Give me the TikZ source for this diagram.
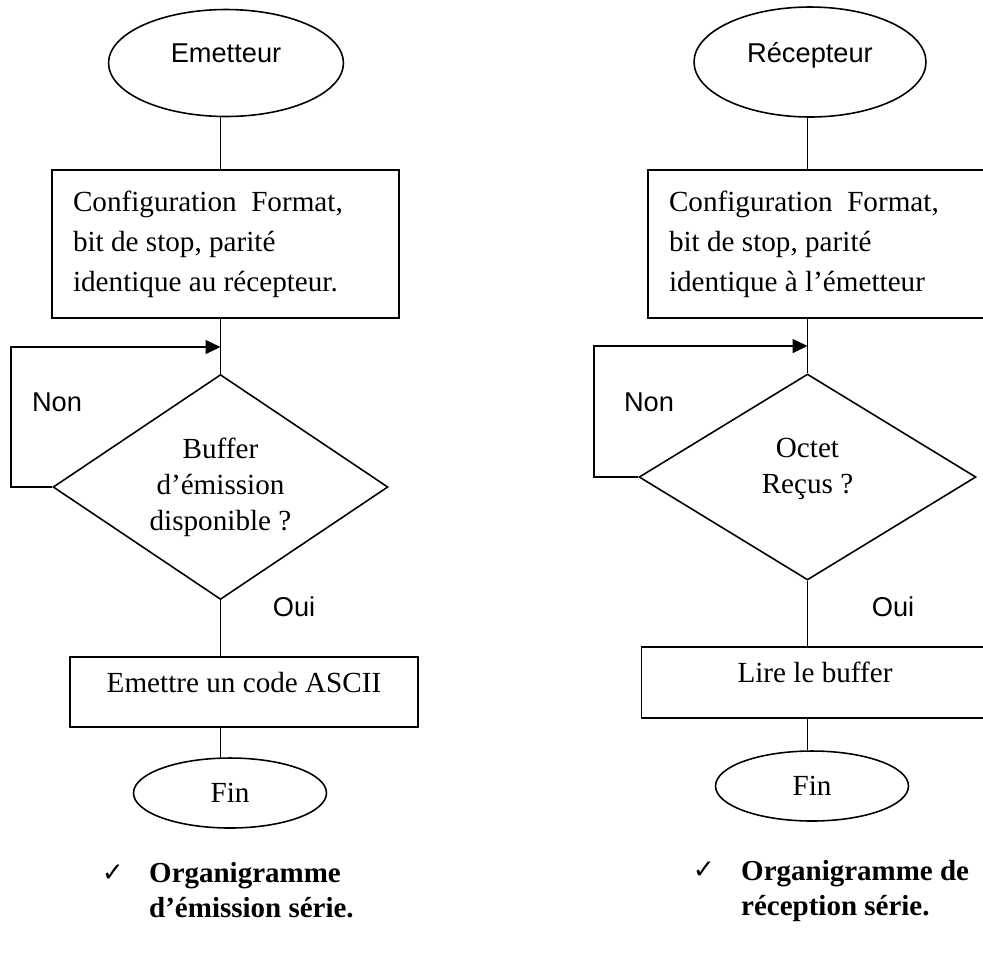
\documentclass[tikz,border=0pt]{standalone}
\usepackage{fontspec}
\setmainfont{Liberation Serif}
\setsansfont{Liberation Sans}
\newfontfamily\symbfont{DejaVu Sans}
\usetikzlibrary{shapes.geometric,arrows.meta}

\tikzset{
  flow/.style={line width=0.9pt},
  term/.style={draw, line width=0.9pt, ellipse, inner sep=0pt, font=\fontsize{15.5}{18}\sffamily},
  fin/.style={draw, line width=0.9pt, ellipse, inner sep=0pt, minimum width=3.86cm, minimum height=1.4cm, font=\fontsize{16.6}{20}\selectfont},
  stepbox/.style={draw, line width=0.9pt, rectangle, minimum width=6.95cm, font=\fontsize{16.6}{22.7}\selectfont},
  config/.style={stepbox, minimum height=2.96cm, inner xsep=0.42cm, text width=6.1cm, align=flush left},
  choice/.style={draw, line width=0.9pt, diamond, shape aspect=1.5, inner sep=0pt, align=center, font=\fontsize{16.6}{20.4}\selectfont},
  answer/.style={font=\fontsize{15.5}{18}\sffamily},
  caption/.style={anchor=west, align=left, font=\fontsize{16.5}{19.8}\bfseries},
  tick/.style={font=\fontsize{15}{18}\symbfont},
}

\begin{document}
\begin{tikzpicture}[x=0.02cm, y=-0.02cm]

\useasboundingbox (0,0) rectangle (983,965);
\clip (0,0) rectangle (983,965);

% Emission
\node[term, minimum width=4.7cm, minimum height=2.14cm] (emit) at (226,63) {\raisebox{0.04cm}{\smash{Emetteur}}};
\node[config] (conf1) at (225.5,244) {Configuration\ \ Format,\\ bit de stop, parité\\ identique au récepteur.};
\node[choice, minimum width=6.7cm, minimum height=4.5cm] (buf) at (220.5,487) {Buffer\\ d’émission\\ disponible ?};
\node[stepbox, minimum height=1.4cm] (ascii) at (244,692) {\smash{Emettre un code ASCII}};
\node[fin] (fin1) at (230,793) {Fin};
\coordinate (jL) at (220.5,347);

\draw[flow] (emit.south -| buf.north) -- (conf1.north -| buf.north);
\draw[flow] (conf1.south -| buf.north) -- (buf.north);
\draw[flow, -{Triangle[length=0.3cm,width=0.28cm]}] (buf.west) -- ++(-41,0) |- (jL);
\draw[flow] (buf.south) -- (ascii.north -| buf.south);
\draw[flow] (ascii.south -| buf.south) -- (fin1.north -| buf.south);

\node[answer] (nonL) at (57,402) {Non};
\node[answer] (ouiL) at (294,607) {Oui};

\node[tick] (tickL) at (113,873) {✓};
\node[caption] (capL) at (143,890) {Organigramme\\ d’émission série.};

% Reception
\node[term, minimum width=4.64cm, minimum height=2.2cm] (recv) at (810,62) {\smash{Récepteur}};
\node[config] (conf2) at (821.5,244) {Configuration\ \ Format,\\ bit de stop, parité\\ identique à l’émetteur};
\node[choice, minimum width=6.74cm, minimum height=4.12cm] (octet) at (807.5,477)
  {\raisebox{0.02cm}[0pt][0pt]{\begin{tabular}{@{}c@{}}Octet\\ Reçus ?\end{tabular}}};
\node[stepbox, minimum height=1.42cm] (lire) at (815,682.5) {\smash{Lire le buffer}};
\node[fin] (fin2) at (812,786) {Fin};
\coordinate (jR) at (807.5,346);

\draw[flow] (recv.south -| octet.north) -- (conf2.north -| octet.north);
\draw[flow] (conf2.south -| octet.north) -- (octet.north);
\draw[flow, -{Triangle[length=0.3cm,width=0.28cm]}] (octet.west) -- ++(-44,0) |- (jR);
\draw[flow] (octet.south) -- (lire.north -| octet.south);
\draw[flow] (lire.south -| octet.south) -- (fin2.north -| octet.south);

\node[answer] (nonR) at (649,402) {Non};
\node[answer] (ouiR) at (893,607) {Oui};

\node[tick] (tickR) at (704,870) {✓};
\node[caption] (capR) at (735,891) {Organigramme de\\ réception série.};

\end{tikzpicture}
\end{document}
